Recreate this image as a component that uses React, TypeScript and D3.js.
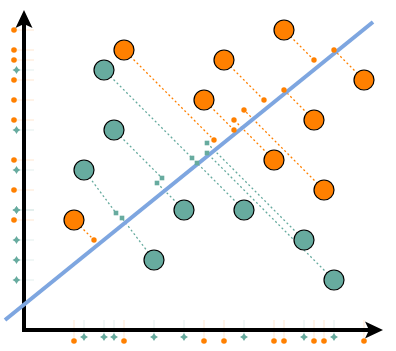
import React, { useEffect, useRef } from 'react';
import * as d3 from 'd3';

const W = 396;
const H = 351;

const ORANGE = '#FF8000';
const TEAL = '#67AB9F';
const BLUE = '#7EA6E0';

// big points (data units)
const orangeX = [10, 20, 26, 34, 18, 29, 25, 30, 5];
const orangeY = [28, 27, 30, 25, 23, 21, 17, 14, 11];
// where each orange point lands near the line
const orangeProjX = [19, 24, 29, 31, 21, 26, 21, 22, 7];
const orangeProjY = [19, 23, 27, 28, 20, 24, 21, 22, 9];

const tealX = [8, 9, 6, 16, 22, 28, 13, 31];
const tealY = [26, 20, 16, 12, 12, 9, 7, 5];
const tealProjX = [16.8, 13.8, 9.2, 13.3, 17.3, 18.3, 9.8, 18.3];
const tealProjY = [17.2, 15.2, 11.7, 14.7, 16.7, 18.7, 11.2, 17.7];

// the blue projection line
const lineX = [-1.9, 34.9];
const lineY = [1.0, 30.8];

const X_MAX = 36;
const Y_MAX = 32;

const App: React.FC = () => {
  const svgRef = useRef<SVGSVGElement | null>(null);

  useEffect(() => {
    if (!svgRef.current) return;
    const svg = d3.select(svgRef.current);
    svg.selectAll('*').remove();

    const x = d3.scaleLinear().domain([0, X_MAX]).range([24, 24 + X_MAX * 10]);
    const y = d3.scaleLinear().domain([0, Y_MAX]).range([330, 330 - Y_MAX * 10]);

    const x0 = x(0);
    const y0 = y(0);

    const orange = orangeX.map((v, i) => ({ x: v, y: orangeY[i], px: orangeProjX[i], py: orangeProjY[i] }));
    const teal = tealX.map((v, i) => ({ x: v, y: tealY[i], px: tealProjX[i], py: tealProjY[i] }));

    // small 4-point star used on the axes
    const star = (cx: number, cy: number, r: number) => {
      const k = r * 0.38;
      return `M${cx},${cy - r} L${cx + k},${cy - k} L${cx + r},${cy} L${cx + k},${cy + k} L${cx},${cy + r} L${cx - k},${cy + k} L${cx - r},${cy} L${cx - k},${cy - k}Z`;
    };

    // faint guide ticks on the axes
    const guides = svg.append('g').attr('stroke-width', 1).attr('stroke-opacity', 0.18);
    orange.forEach(d => {
      guides.append('line').attr('x1', x0 - 10).attr('x2', x0 + 10).attr('y1', y(d.y)).attr('y2', y(d.y)).attr('stroke', ORANGE);
      guides.append('line').attr('x1', x(d.x)).attr('x2', x(d.x)).attr('y1', y0 - 10).attr('y2', y0 + 10).attr('stroke', ORANGE);
    });
    teal.forEach(d => {
      guides.append('line').attr('x1', x0 - 8).attr('x2', x0 + 10).attr('y1', y(d.y)).attr('y2', y(d.y)).attr('stroke', TEAL);
      guides.append('line').attr('x1', x(d.x)).attr('x2', x(d.x)).attr('y1', y0 - 10).attr('y2', y0 + 7).attr('stroke', TEAL);
    });

    // axis markers
    orange.forEach(d => {
      svg.append('circle').attr('cx', x0 - 10).attr('cy', y(d.y)).attr('r', 2.8).attr('fill', ORANGE);
      svg.append('circle').attr('cx', x(d.x)).attr('cy', y0 + 11).attr('r', 2.8).attr('fill', ORANGE);
    });
    teal.forEach(d => {
      svg.append('path').attr('d', star(x0 - 7.5, y(d.y), 4)).attr('fill', TEAL);
      svg.append('path').attr('d', star(x(d.x), y0 + 7, 4)).attr('fill', TEAL);
    });

    // axes with arrows
    const xEnd = x(X_MAX) - 1;
    const yEnd = y(Y_MAX);
    svg.append('path')
      .attr('d', `M${x0},${y0 + 2} L${x0},${yEnd + 14} M${x0 - 2},${y0} L${xEnd - 14},${y0}`)
      .attr('stroke', '#000')
      .attr('stroke-width', 4)
      .attr('fill', 'none');
    svg.append('path')
      .attr('d', `M${x0},${yEnd} L${x0 + 8.5},${yEnd + 18} L${x0},${yEnd + 14} L${x0 - 8.5},${yEnd + 18}Z`)
      .attr('fill', '#000');
    svg.append('path')
      .attr('d', `M${xEnd},${y0} L${xEnd - 18},${y0 - 8.5} L${xEnd - 14},${y0} L${xEnd - 18},${y0 + 8.5}Z`)
      .attr('fill', '#000');

    // dashed projection lines
    orange.forEach(d => {
      svg.append('line')
        .attr('x1', x(d.x)).attr('y1', y(d.y)).attr('x2', x(d.px)).attr('y2', y(d.py))
        .attr('stroke', ORANGE).attr('stroke-width', 1.3).attr('stroke-dasharray', '2,2.5');
    });
    teal.forEach(d => {
      svg.append('line')
        .attr('x1', x(d.x)).attr('y1', y(d.y)).attr('x2', x(d.px)).attr('y2', y(d.py))
        .attr('stroke', TEAL).attr('stroke-width', 1.3).attr('stroke-dasharray', '2,2.5');
    });

    // blue line
    svg.append('line')
      .attr('x1', x(lineX[0])).attr('y1', y(lineY[0]))
      .attr('x2', x(lineX[1])).attr('y2', y(lineY[1]))
      .attr('stroke', BLUE)
      .attr('stroke-width', 4);

    // projected markers
    orange.forEach(d => {
      svg.append('circle').attr('cx', x(d.px)).attr('cy', y(d.py)).attr('r', 2.7).attr('fill', ORANGE);
    });
    teal.forEach(d => {
      svg.append('rect')
        .attr('x', x(d.px) - 2.3).attr('y', y(d.py) - 2.3)
        .attr('width', 4.6).attr('height', 4.6)
        .attr('fill', TEAL);
    });

    // big points
    orange.forEach(d => {
      svg.append('circle').attr('cx', x(d.x)).attr('cy', y(d.y)).attr('r', 10)
        .attr('fill', ORANGE).attr('stroke', '#000').attr('stroke-width', 1.2);
    });
    teal.forEach(d => {
      svg.append('circle').attr('cx', x(d.x)).attr('cy', y(d.y)).attr('r', 10)
        .attr('fill', TEAL).attr('stroke', '#000').attr('stroke-width', 1.2);
    });
  }, []);

  return (
    <svg
      ref={svgRef}
      width={W}
      height={H}
      style={{ position: 'absolute', left: 0, top: 0, background: '#fff' }}
    />
  );
};

export default App;
